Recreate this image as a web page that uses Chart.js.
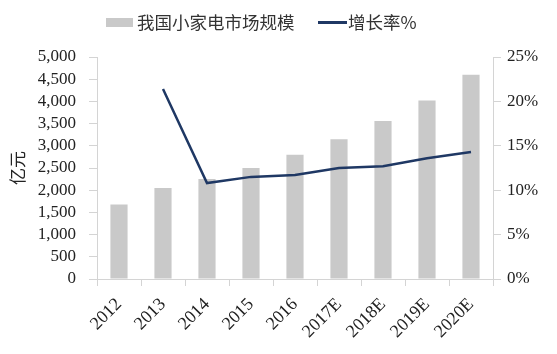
<!DOCTYPE html>
<html>
<head>
<meta charset="utf-8">
<script src="https://cdn.jsdelivr.net/npm/chart.js@4"></script>
<style>
  html, body { margin: 0; padding: 0; background: #fff; }
  #wrap { position: relative; width: 557px; height: 354px; }
  #legend { position: absolute; left: 0; top: 0; width: 557px; height: 40px;
            font-family: 'Noto Sans CJK SC', sans-serif; font-size: 17.5px; color: #333; }
  .lg-box { position: absolute; left: 106px; top: 18px; width: 27px; height: 9px; background: #c9c9c9; }
  .lg-line { position: absolute; left: 318px; top: 21px; width: 29px; height: 2.5px; background: #1f3864; }
  .lg-text { position: absolute; top: 10px; line-height: 24px; white-space: nowrap; }
</style>
</head>
<body>
<div id="wrap">
  <canvas id="chartMarket"></canvas>
  <div id="legend">
    <div class="lg-box"></div>
    <div class="lg-text" id="lgBar" style="left:137px"></div>
    <div class="lg-line"></div>
    <div class="lg-text" id="lgLine" style="left:348px"></div>
  </div>
</div>
<script>
// datos
const years = ['2012', '2013', '2014', '2015', '2016', '2017E', '2018E', '2019E', '2020E'];
const marketSize = [1680, 2050, 2250, 2500, 2800, 3150, 3560, 4020, 4600]; // 亿元
const growthRate = [null, 0.214, 0.108, 0.115, 0.117, 0.125, 0.127, 0.136, 0.143];
const barLabel = '我国小家电市场规模';
const lineLabel = '增长率%';

const serif = "'Liberation Serif', 'Noto Sans CJK SC', serif";
const cjk = "'Noto Sans CJK SC', sans-serif";
const axisGray = '#d4d4d4';

function drawMarketChart() {
  const ctx = document.getElementById('chartMarket').getContext('2d');

  // leyenda en HTML para poder colocarla igual que el original
  document.getElementById('lgBar').textContent = barLabel;
  document.getElementById('lgLine').textContent = lineLabel;

  new Chart(ctx, {
    type: 'bar',
    data: {
      labels: years,
      datasets: [
        {
          type: 'line',
          label: lineLabel,
          data: growthRate,
          yAxisID: 'y1',
          borderColor: '#1f3864',
          backgroundColor: '#1f3864',
          borderWidth: 2.5,
          pointRadius: 0,
          tension: 0,
          order: 0
        },
        {
          label: barLabel,
          data: marketSize,
          yAxisID: 'y',
          backgroundColor: '#c9c9c9',
          borderWidth: 0,
          categoryPercentage: 1,
          barPercentage: 0.39,
          order: 1
        }
      ]
    },
    options: {
      responsive: true,
      maintainAspectRatio: false,
      animation: false,
      layout: { padding: { top: 57, left: 0, right: 0, bottom: 0 } },
      plugins: {
        tooltip: { enabled: false },
        legend: { display: false }
      },
      scales: {
        x: {
          offset: true,
          grid: { drawOnChartArea: false, color: axisGray, tickLength: 7, offset: true },
          border: { color: axisGray },
          ticks: {
            maxRotation: 45,
            minRotation: 45,
            autoSkip: false,
            color: '#222',
            padding: 8,
            font: { family: serif, size: 18 }
          },
          afterFit: function(scale) { scale.height = 75; }
        },
        y: {
          position: 'left',
          min: 0,
          max: 5000,
          ticks: {
            stepSize: 500,
            autoSkip: false,
            color: '#222',
            padding: 13,
            font: { family: serif, size: 17 },
            callback: function(value) {
              return value.toLocaleString('en-US');
            }
          },
          grid: { drawOnChartArea: false, color: axisGray, tickLength: 8 },
          border: { color: axisGray },
          title: {
            display: true,
            text: '亿元',
            color: '#222',
            padding: { top: 7, bottom: 0 },
            font: { family: cjk, size: 17 }
          },
          afterFit: function(scale) { scale.width = 97; }
        },
        y1: {
          position: 'right',
          min: 0,
          max: 0.25,
          ticks: {
            stepSize: 0.05,
            autoSkip: false,
            color: '#222',
            padding: 6,
            font: { family: serif, size: 17 },
            callback: function(value) {
              return Math.round(value * 100) + '%';
            }
          },
          grid: { drawOnChartArea: false, color: axisGray, tickLength: 8 },
          border: { color: axisGray },
          afterFit: function(scale) { scale.width = 64; }
        }
      }
    }
  });
}

document.addEventListener('DOMContentLoaded', function() {
  drawMarketChart();
});
</script>
</body>
</html>
